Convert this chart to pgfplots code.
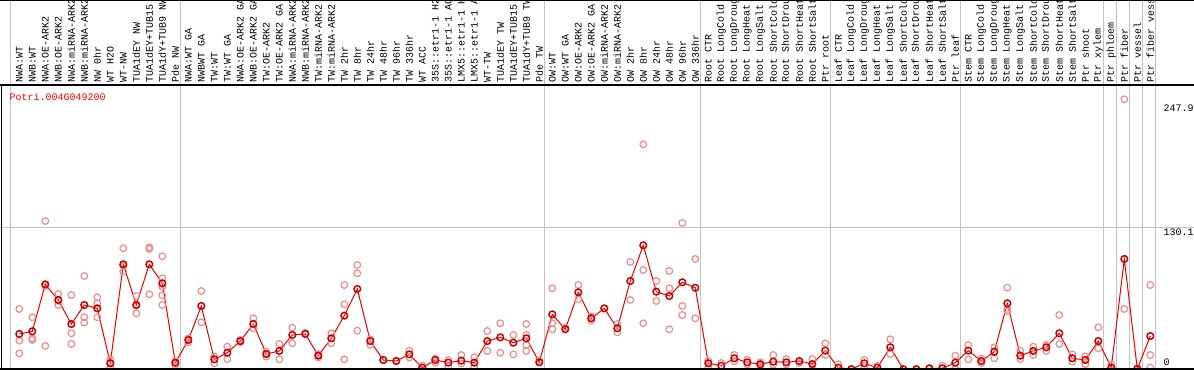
\documentclass[border=0pt]{standalone}
\usepackage{fontspec}
\setmainfont{Liberation Mono}
\usepackage{pgfplots}
\pgfplotsset{compat=1.18}
\definecolor{rep}{RGB}{234,140,140}
\definecolor{sep}{RGB}{195,195,195}
\definecolor{mainred}{RGB}{235,0,0}
\begin{document}
\begin{tikzpicture}[font=\fontsize{7.5}{8}\selectfont]
\useasboundingbox (0,0) rectangle (895.5pt,277.5pt);
\clip (0,0) rectangle (895.5pt,277.5pt);
\foreach \x in {10.7,180.5,544.5,700.5,830.5,960.5,1103.5,1116.5,1129.5,1142.5,1155.5}
  \draw[sep,line width=0.75pt] (\x*0.75pt,0) -- (\x*0.75pt,277.5pt);
\draw[sep,line width=0.75pt] (0,106.7pt) -- (895.5pt,106.7pt);
\begin{axis}[at={(0,0)}, anchor=south west, scale only axis,
  width=895.5pt, height=213.75pt,
  xmin=-1.4846, xmax=90.362, ymin=-0.46, ymax=261.0,
  axis line style={draw=none}, major tick length=0pt,
  ytick=\empty, xtick={0,...,87},
  xticklabel pos=upper,
  x tick label style={rotate=90, anchor=west, font=\fontsize{7.5}{8}\selectfont, inner sep=2pt},
  xticklabels={NWA:WT,NWB:WT,NWA:OE-ARK2,NWB:OE-ARK2,NWA:miRNA-ARK2,NWB:miRNA-ARK2,NW 0hr,WT H2O,WT-NW,TUA1dEY NW,TUA1dEY+TUB15 NW,TUA1dY+TUB9 NW,Pde NW,
  NWA:WT GA,NWBWT GA,TW:WT,TW:WT GA,NWA:OE-ARK2 GA,NWB:OE-ARK2 GA,TW:OE-ARK2,TW:OE-ARK2 GA,NWA:miRNA-ARK2,NWB:miRNA-ARK2,TW:miRNA-ARK2,TW:miRNA-ARK2,TW 2hr,TW 8hr,TW 24hr,TW 48hr,TW 96hr,TW 336hr,WT ACC,35S::etr1-1 H2O,35S::etr1-1 ACC,LMX5::etr1-1 H2O,LMX5::etr1-1 ACC,WT-TW,TUA1dEY TW,TUA1dEY+TUB15 TW,TUA1dY+TUB9 TW,Pde TW,
  OW:WT,OW:WT GA,OW:OE-ARK2,OW:OE-ARK2 GA,OW:miRNA-ARK2,OW:miRNA-ARK2,OW 2hr,OW 8hr,OW 24hr,OW 48hr,OW 96hr,OW 336hr,
  Root CTR,Root LongCold,Root LongDrought,Root LongHeat,Root LongSalt,Root ShortCold,Root ShortDrought,Root ShortHeat,Root ShortSalt,Ptr root,
  Leaf CTR,Leaf LongCold,Leaf LongDrought,Leaf LongHeat,Leaf LongSalt,Leaf ShortCold,Leaf ShortDrought,Leaf ShortHeat,Leaf ShortSalt,Ptr leaf,
  Stem CTR,Stem LongCold,Stem LongDrought,Stem LongHeat,Stem LongSalt,Stem ShortCold,Stem ShortDrought,Stem ShortHeat,Stem ShortSalt,Ptr shoot,
  Ptr xylem,Ptr phloem,Ptr fiber,Ptr vessel,Ptr fiber vessel},
]
\addplot[only marks, mark=o, mark size=2.5pt, draw=rep, mark options={line width=0.9pt}] table {
x y
0 55.5
0 26.4
0 14.8
1 47.9
1 28.6
1 27.1
2 136.2
2 76.6
2 21.6
3 69.3
3 59.2
3 63
4 68.3
4 33.2
4 23.4
5 85.8
5 47.9
5 43
6 66.2
6 60.7
6 47.9
7 9.3
7 1.7
7 5.5
8 111.2
8 89.8
8 95
9 67.4
9 51.5
9 59
10 112.1
10 110.6
10 69
11 103.9
11 83.7
11 76
11 68.1
11 59.2
12 8
12 4
13 28.6
13 25
14 72
14 43.3
15 5.7
15 12
16 20.9
16 9.6
17 27
17 25
18 47
18 37.8
19 16.3
19 11.8
20 23.4
20 9.3
21 38.3
21 24
22 33.5
23 14
23 11
24 33.2
24 24
25 77.5
25 59.8
25 9.3
26 95.9
26 88.2
26 35.6
27 27.7
27 22.5
28 8.7
29 7.8
30 17.3
30 11
31 3.5
32 6.3
32 10
33 8.7
33 2.6
34 13.3
34 5.5
35 11.2
35 2.6
36 35.3
36 17
37 42.4
37 15.4
38 31.7
38 13.9
39 41.7
39 31.7
39 22.5
39 17
40 8
41 74.5
41 42.4
41 36.9
42 38.5
43 77.5
43 64.4
44 48.5
44 45
45 56
46 41.7
46 34.1
47 98.6
47 63.8
48 206.6
48 91.3
48 42.4
49 81.2
49 62.8
50 90.4
50 74.5
50 36.9
51 134.4
51 58.3
51 50
52 101.4
52 47
53 8
53 1.5
54 6
55 13.3
55 7.5
56 9
56 4.5
57 6.5
57 3.5
58 13.3
58 4.5
59 9.6
59 4.5
60 6
61 9.6
61 0.5
62 24
62 13.3
63 4.8
64 0.5
65 8.7
65 3
66 3.5
67 27.7
67 14.2
68 0.3
69 0.3
70 0.5
71 3.5
72 12.7
72 0.5
73 22.5
73 9.3
74 10
74 6
75 20.4
75 10.3
76 75
76 55.5
76 53.5
77 17.3
77 9.6
78 20.9
78 13.3
79 22.5
79 17
80 50
80 23.4
81 13.9
81 7.2
82 11.8
82 4.8
83 38.7
83 19.4
84 4.5
85 247.9
85 55.5
86 1.2
87 77.5
87 13.3
87 1.7
};
\addplot[mainred, line width=0.75pt, mark=o, mark size=2.5pt, mark options={line width=1.1pt, draw=mainred!85!black}] table {
x y
0 32.6
1 35.0
2 78.1
3 63.8
4 41.7
5 59.2
6 56.1
7 5.7
8 96.5
9 59.2
10 96.5
11 79.1
12 6.2
13 27.1
14 58.3
15 9.3
16 15.4
17 26.1
18 41.7
19 14.2
20 17.0
21 31.7
22 32.6
23 12.7
24 28.6
25 49.4
26 73.9
27 26.1
28 8.7
29 7.8
30 13.9
31 1.7
32 8.7
33 6.3
34 8.1
35 6.3
36 26.1
37 29.5
38 24.6
39 28.6
40 6.6
41 50.6
42 36.9
43 70.8
44 47.0
45 56.1
46 37.8
47 81.2
48 113.9
49 71.4
50 67.4
51 80.0
52 75.0
53 5.7
54 3.5
55 10.3
56 6.6
57 4.8
58 7.2
59 6.6
60 7.8
61 5.0
62 17.3
63 1.7
64 0.2
65 5.7
66 1.7
67 20.4
68 0.2
69 0.2
70 1.1
71 1.1
72 6.3
73 17.3
74 7.8
75 16.3
76 60.7
77 12.7
78 17.0
79 20.4
80 33.2
81 10.3
82 8.7
83 26.1
84 1.7
85 101.4
86 0.5
87 30.7
};
\end{axis}
\draw[black,line width=1.1pt] (0,277.1pt) -- (895.5pt,277.1pt);
\draw[black,line width=1.1pt] (0,213.75pt) -- (895.5pt,213.75pt);
\draw[black,line width=1.1pt] (0,0.6pt) -- (895.5pt,0.6pt);
\draw[black,line width=1.1pt] (1.3pt,0) -- (1.3pt,213.75pt);
\node[anchor=west, inner sep=0pt, text=red] at (7pt,204.5pt) {Potri.004G049200};
\node[anchor=west, inner sep=0pt] at (872.5pt,196.7pt) {247.9};
\node[anchor=west, inner sep=0pt] at (872.5pt,103.3pt) {130.1};
\node[anchor=west, inner sep=0pt] at (872.5pt,6.2pt) {0};
\end{tikzpicture}
\end{document}
